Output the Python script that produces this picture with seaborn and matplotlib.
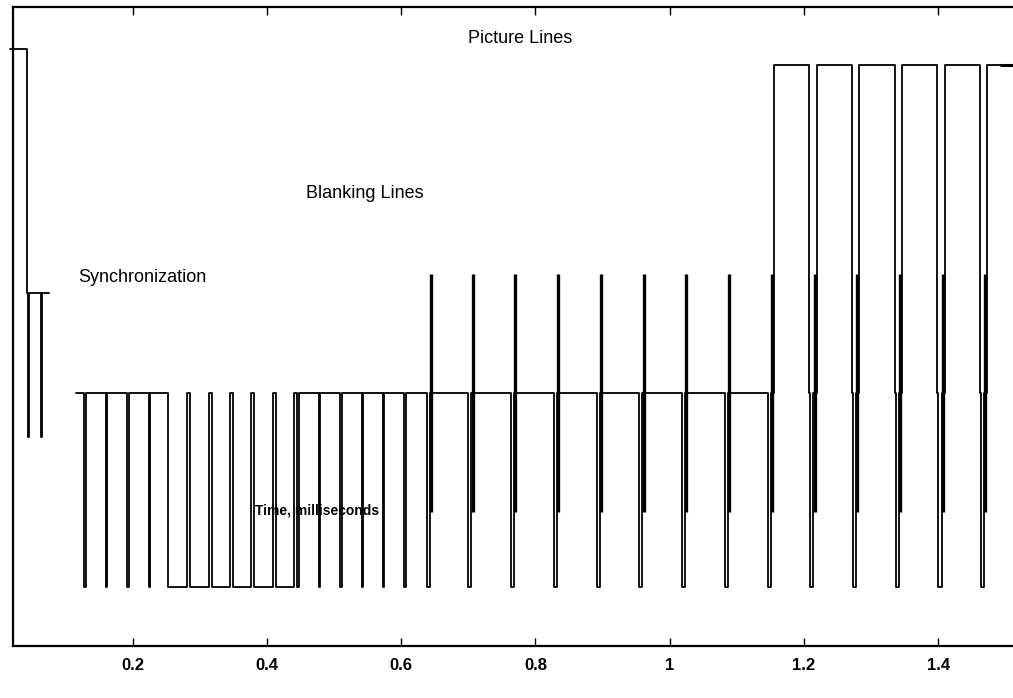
import numpy as np
import pandas as pd
import seaborn as sns
import matplotlib.pyplot as plt

# signal levels (arbitrary units, 0..100 on the axis)
vsync_top = 93.35
white_level = 90.85
burst_high = 58.15
sync_mid = 55.18
blank_level = 39.46
sync_low_a = 32.65
burst_low = 20.92
sync_tip = 9.18

# times in milliseconds
seg_a_start = 0.0176
seg_a_drop = 0.0433
seg_a_pulses = [0.0440, 0.0633]
seg_a_end = 0.0761

seg_b_start = 0.1159
pre_equalizing = [0.1282, 0.1601, 0.1918, 0.2241]
broad_pulses = [0.2533, 0.2861, 0.3179, 0.3497, 0.3814, 0.4132]
post_equalizing = [0.4454, 0.4773, 0.5090, 0.5413, 0.5726, 0.6048]
blanking_syncs = [0.6381, 0.7001, 0.7637, 0.8277, 0.8913, 0.9547, 1.0183, 1.0823]
picture_syncs = [1.1459, 1.2094, 1.2730, 1.3366, 1.4001, 1.4636]
t_end = 1.53

# pulse widths (ms)
w_pulse_a = 0.0015
w_eq = 0.0023
w_broad = 0.0271
w_hsync = 0.0047
burst_mid = 0.0066
white_rise = 0.0094
front_porch = 0.0015

tick_values = [0.2, 0.4, 0.6, 0.8, 1.0, 1.2, 1.4]
tick_labels = ['0.2', '0.4', '0.6', '0.8', '1', '1.2', '1.4']


def pulse(pts, t0, width, base, low):
    pts += [(t0, base), (t0, low), (t0 + width, low), (t0 + width, base)]


# segment A: start of frame
pts_a = [(seg_a_start, vsync_top), (seg_a_drop, vsync_top), (seg_a_drop, sync_mid)]
for t in seg_a_pulses:
    pulse(pts_a, t, w_pulse_a, sync_mid, sync_low_a)
pts_a.append((seg_a_end, sync_mid))

# segment B: equalizing, vertical sync, blanking and picture lines
pts_b = [(seg_b_start, blank_level)]
for t in pre_equalizing:
    pulse(pts_b, t, w_eq, blank_level, sync_tip)
for t in broad_pulses:
    pulse(pts_b, t, w_broad, blank_level, sync_tip)
for t in post_equalizing:
    pulse(pts_b, t, w_eq, blank_level, sync_tip)
for t in blanking_syncs:
    pulse(pts_b, t, w_hsync, blank_level, sync_tip)
for i, t in enumerate(picture_syncs):
    pulse(pts_b, t, w_hsync, blank_level, sync_tip)
    pts_b += [(t + white_rise, blank_level), (t + white_rise, white_level)]
    if i + 1 < len(picture_syncs):
        t_off = picture_syncs[i + 1] - front_porch
        pts_b += [(t_off, white_level), (t_off, blank_level)]
    else:
        pts_b.append((t_end, white_level))

df = pd.concat([
    pd.DataFrame(pts_a, columns=['t', 'level']).assign(seg='a'),
    pd.DataFrame(pts_b, columns=['t', 'level']).assign(seg='b'),
], ignore_index=True)

sns.set_style('white')
plt.rcParams['font.family'] = ['Liberation Sans', 'DejaVu Sans']
plt.rcParams['text.color'] = 'black'
plt.rcParams['xtick.color'] = 'black'
plt.rcParams['xtick.labelcolor'] = 'black'

fig = plt.figure(figsize=(10.13, 6.98), dpi=100)
ax = fig.add_axes([13 / 1013, (698 - 645.7) / 698, 1012.6 / 1013, 639.2 / 698])

sns.lineplot(data=df, x='t', y='level', units='seg', estimator=None, sort=False,
             color='black', linewidth=1.3, ax=ax, legend=False)
for line in ax.lines:
    line.set_clip_on(False)

# colour bursts after each horizontal sync
burst_x = [t + burst_mid for t in blanking_syncs + picture_syncs]
ax.vlines(burst_x, burst_low, burst_high, colors='black', linewidth=2.4)
# short heavy piece at the end of the last picture line
ax.plot([1.4935, t_end], [white_level, white_level], color='black', linewidth=2.2)

ax.set_xlim(0.022, 1.53)
ax.set_ylim(0, 100)
ax.set_xticks(tick_values)
ax.set_xticklabels(tick_labels, fontsize=12, fontweight='bold', color='black')
ax.set_yticks([])
ax.tick_params(axis='x', direction='in', top=True, bottom=True, length=6,
               width=1.0, pad=9, color='black')
for side in ['left', 'bottom', 'top']:
    ax.spines[side].set_linewidth(1.6)
    ax.spines[side].set_color('black')
ax.spines['right'].set_visible(False)
ax.set_xlabel('')
ax.set_ylabel('')

ax.text(0.777, 95.07, 'Picture Lines', ha='center', va='center', fontsize=13, color='black')
ax.text(0.546, 70.67, 'Blanking Lines', ha='center', va='center', fontsize=13, color='black')
ax.text(0.1188, 57.68, 'Synchronization', ha='left', va='center', fontsize=13, color='black')
ax.text(0.4755, 21.2, 'Time, milliseconds', ha='center', va='center',
        fontsize=10, fontweight='bold', color='black')

fig.savefig('out.png', dpi=100)
